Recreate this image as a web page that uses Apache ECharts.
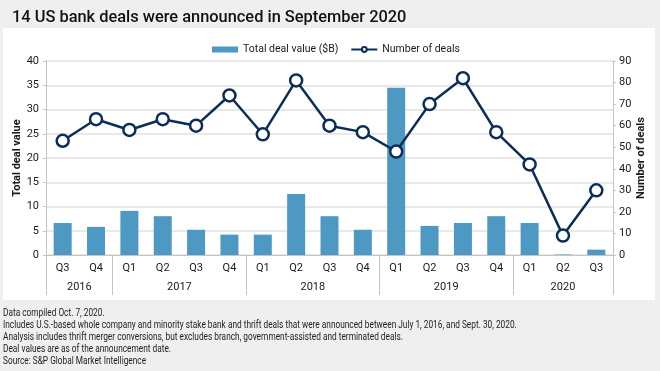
<!DOCTYPE html>
<html>
<head>
<meta charset="utf-8">
<script src="https://cdn.jsdelivr.net/npm/echarts@6/dist/echarts.min.js"></script>
<style>
html,body{margin:0;padding:0;background:#efefef;}
#c{width:660px;height:371px;}
</style>
</head>
<body>
<div id="c"></div>
<script>
const quarters = ['Q3','Q4','Q1','Q2','Q3','Q4','Q1','Q2','Q3','Q4','Q1','Q2','Q3','Q4','Q1','Q2','Q3'];
const yearLabels = ['2016','2017','2018','2019','2020'];
const yearCenters = [1, 4, 8, 12, 15.5];
const yearBoundaries = [0, 2, 6, 10, 14, 17];
const dealValue = [6.6, 5.8, 9.1, 8.0, 5.2, 4.2, 4.2, 12.6, 8.0, 5.2, 34.5, 6.0, 6.6, 8.0, 6.6, 0.1, 1.1];
const dealCount = [53, 63, 58, 63, 60, 74, 56, 81, 60, 57, 48, 70, 82, 57, 42, 9, 30];
const leftTicks = {min: 0, max: 40, interval: 5};
const rightTicks = {min: 0, max: 90, interval: 10};

const FONT = 'Roboto, sans-serif';
const AX = '#c4c4c4';
const TXT = '#1a1a1a';
const NOTE = 'Data compiled Oct. 7, 2020.\nIncludes U.S.-based whole company and minority stake bank and thrift deals that were announced between July 1, 2016, and Sept. 30, 2020.\nAnalysis includes thrift merger conversions, but excludes branch, government-assisted and terminated deals.\nDeal values are as of the announcement date.\nSource: S&P Global Market Intelligence';

const chart = echarts.init(document.getElementById('c'), null, {renderer: 'canvas'});
chart.setOption({
  backgroundColor: '#efefef',
  animation: false,
  textStyle: {fontFamily: FONT},
  graphic: [{
    type: 'rect', left: 3, top: 28, z: -10,
    shape: {width: 652, height: 272},
    style: {fill: '#ffffff'}
  }, {
    type: 'text', x: 3, y: 307, scaleX: 0.79,
    style: {text: NOTE, fontFamily: 'Roboto', fontSize: 10.5, lineHeight: 12, fill: '#222'}
  }],
  title: [{
    text: '14 US bank deals were announced in September 2020',
    left: 7, top: 5,
    textStyle: {fontFamily: 'Roboto', fontSize: 16.4, fontWeight: 500, color: '#111'}
  }],
  legend: {
    left: 207, top: 39,
    itemWidth: 26, itemHeight: 6, itemGap: 12,
    textStyle: {fontFamily: FONT, fontSize: 10.5, color: TXT},
    data: [{name: 'Total deal value ($B)', icon: 'rect'}, {name: 'Number of deals'}]
  },
  grid: {left: 46, right: 47, top: 61, height: 194, containLabel: false},
  xAxis: [{
    type: 'category', data: quarters, position: 'bottom',
    axisLine: {lineStyle: {color: AX, width: 1}},
    axisTick: {length: 21, lineStyle: {color: AX}},
    axisLabel: {margin: 8, fontSize: 11, color: TXT, fontFamily: FONT}
  }, {
    type: 'value', position: 'bottom', min: 0, max: quarters.length,
    axisLine: {show: false}, splitLine: {show: false},
    axisTick: {show: true, length: 40, customValues: yearBoundaries, lineStyle: {color: AX}},
    axisLabel: {
      margin: 27, fontSize: 11, color: TXT, fontFamily: FONT, customValues: yearCenters,
      formatter: function (v) { const k = yearCenters.indexOf(v); return k >= 0 ? yearLabels[k] : ''; }
    }
  }],
  yAxis: [{
    type: 'value', position: 'left', min: leftTicks.min, max: leftTicks.max, interval: leftTicks.interval,
    name: 'Total deal value', nameLocation: 'middle', nameGap: 23, nameRotate: 90, nameMoveOverlap: false,
    nameTextStyle: {fontFamily: FONT, fontSize: 11, fontWeight: 'bold', color: TXT},
    axisLine: {show: true, lineStyle: {color: AX}},
    axisTick: {show: true, length: 3, lineStyle: {color: AX}},
    axisLabel: {margin: 7, fontSize: 11, color: TXT, fontFamily: FONT},
    splitLine: {show: true, lineStyle: {color: '#e2e2e2', width: 1.5}}
  }, {
    type: 'value', position: 'right', min: rightTicks.min, max: rightTicks.max, interval: rightTicks.interval,
    name: 'Number of deals', nameLocation: 'middle', nameGap: 23, nameRotate: 90, nameMoveOverlap: false,
    nameTextStyle: {fontFamily: FONT, fontSize: 11, fontWeight: 'bold', color: TXT},
    axisLine: {show: true, lineStyle: {color: AX}},
    axisTick: {show: true, length: 3, lineStyle: {color: AX}},
    axisLabel: {margin: 6, fontSize: 11, color: TXT, fontFamily: FONT},
    splitLine: {show: false}
  }],
  series: [{
    name: 'Total deal value ($B)', type: 'bar', xAxisIndex: 0, yAxisIndex: 0,
    data: dealValue, barWidth: 18,
    itemStyle: {color: '#4e99c3'}
  }, {
    name: 'Number of deals', type: 'line', xAxisIndex: 0, yAxisIndex: 1,
    data: dealCount, symbol: 'circle', symbolSize: 12,
    lineStyle: {color: '#0b2d58', width: 2.5},
    itemStyle: {color: '#ffffff', borderColor: '#0b2d58', borderWidth: 2.5},
    z: 3
  }]
});
</script>
</body>
</html>
